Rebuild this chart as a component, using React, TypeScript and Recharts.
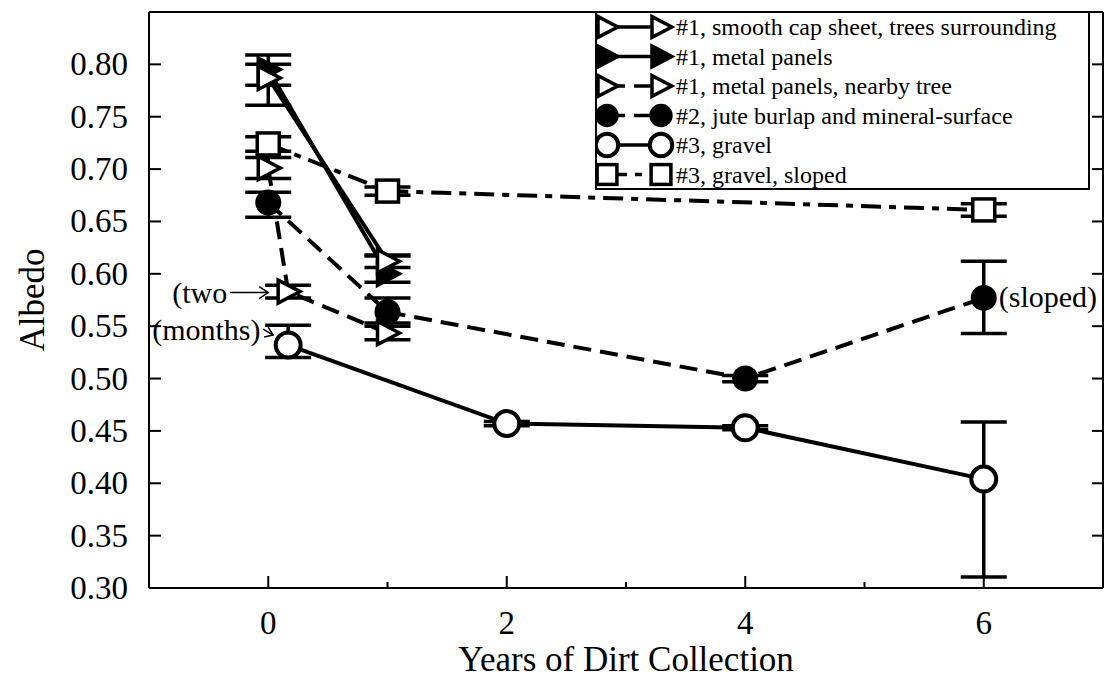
import React from 'react';
import { ScatterChart, Scatter, XAxis, YAxis, ErrorBar, Legend, ReferenceDot } from 'recharts';

const FONT = '"Liberation Serif", "Times New Roman", serif';
const PLOT_RIGHT = 1103;

// axis ticks
const yearTicks = [0, 1, 2, 3, 4, 5, 6];
const albedoTicks = [0.3, 0.35, 0.4, 0.45, 0.5, 0.55, 0.6, 0.65, 0.7, 0.75, 0.8];

// #1, smooth cap sheet, trees surrounding
const smoothCapYears = [0, 1];
const smoothCapAlbedo = [0.787, 0.612];
const smoothCapLow = [0.78, 0.606];
const smoothCapHigh = [0.8, 0.618];

// #1, metal panels
const metalYears = [0, 1];
const metalAlbedo = [0.795, 0.6];
const metalLow = [0.761, 0.592];
const metalHigh = [0.809, 0.617];

// #1, metal panels, nearby tree
const treeYears = [0, 0.167, 1];
const treeAlbedo = [0.701, 0.583, 0.5435];
const treeLow = [0.691, 0.577, 0.537];
const treeHigh = [0.711, 0.589, 0.55];

// #2, jute burlap and mineral-surface
const juteYears = [0, 1, 4, 6];
const juteAlbedo = [0.668, 0.5635, 0.5, 0.577];
const juteLow = [0.654, 0.553, 0.497, 0.543];
const juteHigh = [0.678, 0.577, 0.503, 0.612];

// #3, gravel
const gravelYears = [0.167, 2, 4, 6];
const gravelAlbedo = [0.532, 0.457, 0.453, 0.404];
const gravelLow = [0.52, 0.455, 0.451, 0.3105];
const gravelHigh = [0.551, 0.459, 0.455, 0.4585];

// #3, gravel, sloped
const slopedYears = [0, 1, 6];
const slopedAlbedo = [0.724, 0.679, 0.661];
const slopedLow = [0.717, 0.675, 0.655];
const slopedHigh = [0.731, 0.683, 0.667];

const toPoints = (years: number[], albedo: number[], low: number[], high: number[]) =>
  years.map((x, i) => ({ x, y: albedo[i], err: [albedo[i] - low[i], high[i] - albedo[i]] }));

type Kind = 'triOpen' | 'triFilled' | 'circleFilled' | 'circleOpen' | 'square';

const Marker = ({ kind, cx, cy, small }: { kind: Kind; cx: number; cy: number; small?: boolean }) => {
  const s = small ? 0.9 : 1;
  switch (kind) {
    case 'triOpen':
    case 'triFilled':
      return (
        <polygon
          points={`${cx - 10 * s},${cy - 11.5 * s} ${cx + 12 * s},${cy} ${cx - 10 * s},${cy + 11.5 * s}`}
          fill={kind === 'triFilled' ? '#000' : '#fff'}
          stroke="#000"
          strokeWidth={3.5}
        />
      );
    case 'circleFilled':
      return <circle cx={cx} cy={cy} r={13 * s} fill="#000" />;
    case 'circleOpen':
      return <circle cx={cx} cy={cy} r={12.5 * s} fill="#fff" stroke="#000" strokeWidth={4} />;
    default:
      return <rect x={cx - 11 * s} y={cy - 11 * s} width={22 * s} height={22 * s} fill="#fff" stroke="#000" strokeWidth={3.5} />;
  }
};

const series = [
  { name: '#1, smooth cap sheet, trees surrounding', data: toPoints(smoothCapYears, smoothCapAlbedo, smoothCapLow, smoothCapHigh), kind: 'triOpen' as Kind, dash: undefined },
  { name: '#1, metal panels', data: toPoints(metalYears, metalAlbedo, metalLow, metalHigh), kind: 'triFilled' as Kind, dash: undefined },
  { name: '#1, metal panels, nearby tree', data: toPoints(treeYears, treeAlbedo, treeLow, treeHigh), kind: 'triOpen' as Kind, dash: '18 9' },
  { name: '#2, jute burlap and mineral-surface', data: toPoints(juteYears, juteAlbedo, juteLow, juteHigh), kind: 'circleFilled' as Kind, dash: '18 9' },
  { name: '#3, gravel', data: toPoints(gravelYears, gravelAlbedo, gravelLow, gravelHigh), kind: 'circleOpen' as Kind, dash: undefined },
  { name: '#3, gravel, sloped', data: toPoints(slopedYears, slopedAlbedo, slopedLow, slopedHigh), kind: 'square' as Kind, dash: '20 8 7 8' },
];

const drawOrder = [4, 5, 3, 2, 1, 0];

const BottomTick = ({ x, y, payload }: any) => {
  const major = payload.value % 2 === 0;
  return (
    <g>
      <line x1={x} x2={x} y1={y} y2={y - (major ? 12 : 6)} stroke="#000" strokeWidth={2} />
      {major && (
        <text x={x} y={y + 46} textAnchor="middle" fontSize={33} fontFamily={FONT} fill="#000">
          {payload.value}
        </text>
      )}
    </g>
  );
};

// left tick also mirrors an inward tick on the right frame
const LeftTick = ({ x, y, payload }: any) => (
  <g>
    <line x1={x + 21} x2={x + 33} y1={y} y2={y} stroke="#000" strokeWidth={2} />
    <line x1={PLOT_RIGHT - 11} x2={PLOT_RIGHT} y1={y} y2={y} stroke="#000" strokeWidth={2} />
    <text x={x} y={y + 11} textAnchor="end" fontSize={33} fontFamily={FONT} fill="#000">
      {payload.value.toFixed(2)}
    </text>
  </g>
);

const LegendBox = () => (
  <svg width={495} height={179} style={{ display: 'block' }}>
    <rect x={1} y={1} width={493} height={177} fill="#fff" stroke="#000" strokeWidth={2} />
    {series.map((s, i) => {
      const cy = 16 + i * 29.5;
      return (
        <g key={s.name}>
          <line x1={12} x2={66} y1={cy} y2={cy} stroke="#000" strokeWidth={3.5} strokeDasharray={s.dash} />
          <Marker kind={s.kind} cx={12} cy={cy} small />
          <Marker kind={s.kind} cx={66} cy={cy} small />
          <text x={81} y={cy + 8} fontSize={24} fontFamily={FONT} fill="#000">
            {s.name}
          </text>
        </g>
      );
    })}
  </svg>
);

const TwoNote = ({ cx, cy }: any) => (
  <g fontFamily={FONT} fontSize={30} fill="#000">
    <text x={cx - 116} y={cy + 11}>(two</text>
    <line x1={cx - 58} x2={cx - 20} y1={cy + 1} y2={cy + 1} stroke="#000" strokeWidth={1.5} />
    <polyline points={`${cx - 29},${cy - 5} ${cx - 20},${cy + 1} ${cx - 29},${cy + 7}`} fill="none" stroke="#000" strokeWidth={1.5} />
  </g>
);

const MonthsNote = ({ cx, cy }: any) => (
  <g fontFamily={FONT} fontSize={30} fill="#000">
    <text x={cx - 136} y={cy - 5}>(months)</text>
    <line x1={cx - 25} x2={cx - 15} y1={cy - 16} y2={cy - 10} stroke="#000" strokeWidth={1.5} />
    <polyline points={`${cx - 24},${cy - 8} ${cx - 15},${cy - 10} ${cx - 20},${cy - 18}`} fill="none" stroke="#000" strokeWidth={1.5} />
  </g>
);

const SlopedNote = ({ cx, cy }: any) => (
  <text x={cx + 15} y={cy + 9} fontFamily={FONT} fontSize={30} fill="#000">
    (sloped)
  </text>
);

export default function App() {
  return (
    <div style={{ position: 'absolute', left: 0, top: 0, background: '#fff' }}>
      <ScatterChart width={1105} height={681} margin={{ top: 0, right: 0, bottom: 0, left: 0 }}>
        <XAxis
          type="number"
          dataKey="x"
          domain={[-1, 7]}
          ticks={yearTicks}
          interval={0}
          height={93}
          tickSize={0}
          tickMargin={0}
          tick={<BottomTick />}
          axisLine={{ stroke: '#000', strokeWidth: 2 }}
          label={{
            content: () => (
              <text x={626} y={671} textAnchor="middle" fontSize={35} fontFamily={FONT} fill="#000">
                Years of Dirt Collection
              </text>
            ),
          }}
        />
        <XAxis
          xAxisId="top"
          orientation="top"
          type="number"
          domain={[-1, 7]}
          height={12}
          tick={false}
          tickLine={false}
          axisLine={{ stroke: '#000', strokeWidth: 2 }}
        />
        <YAxis
          type="number"
          dataKey="y"
          domain={[0.3, 0.85]}
          ticks={albedoTicks}
          interval={0}
          width={149}
          tickSize={0}
          tickMargin={21}
          tick={<LeftTick />}
          axisLine={{ stroke: '#000', strokeWidth: 2 }}
          label={{
            content: () => (
              <text
                x={32}
                y={300}
                transform="rotate(-90 32 300)"
                textAnchor="middle"
                dominantBaseline="central"
                fontSize={35}
                fontFamily={FONT}
                fill="#000"
              >
                Albedo
              </text>
            ),
          }}
        />
        <YAxis
          yAxisId="right"
          orientation="right"
          type="number"
          domain={[0.3, 0.85]}
          width={1105 - PLOT_RIGHT}
          tick={false}
          tickLine={false}
          axisLine={{ stroke: '#000', strokeWidth: 2 }}
        />
        {drawOrder.map((idx) => {
          const s = series[idx];
          return (
            <Scatter
              key={s.name}
              name={s.name}
              data={s.data}
              fill="#000"
              line={{ stroke: '#000', strokeWidth: 4, strokeDasharray: s.dash }}
              lineType="joint"
              shape={(p: any) => <Marker kind={s.kind} cx={p.cx} cy={p.cy} />}
              isAnimationActive={false}
            >
              <ErrorBar dataKey="err" direction="y" width={23} strokeWidth={3.5} stroke="#000" />
            </Scatter>
          );
        })}
        <ReferenceDot x={treeYears[1]} y={treeAlbedo[1]} r={1} shape={(p: any) => <TwoNote cx={p.cx} cy={p.cy} />} />
        <ReferenceDot x={gravelYears[0]} y={gravelAlbedo[0]} r={1} shape={(p: any) => <MonthsNote cx={p.cx} cy={p.cy} />} />
        <ReferenceDot x={juteYears[3]} y={juteAlbedo[3]} r={1} shape={(p: any) => <SlopedNote cx={p.cx} cy={p.cy} />} />
        <Legend
          layout="vertical"
          align="center"
          verticalAlign="middle"
          content={() => <LegendBox />}
          wrapperStyle={{ left: 595, top: 11, width: 495, height: 179 }}
        />
      </ScatterChart>
    </div>
  );
}
